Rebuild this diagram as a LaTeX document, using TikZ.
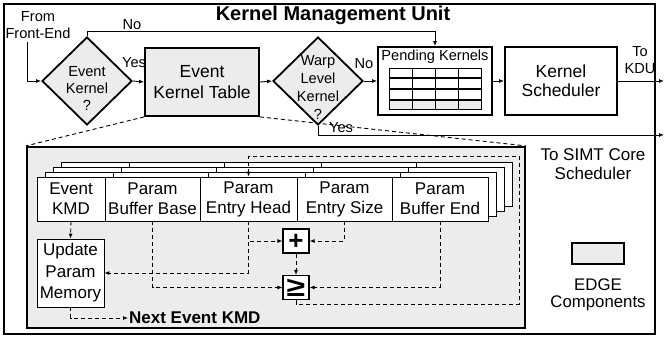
\documentclass[tikz,border=0pt]{standalone}
\usepackage{fontspec}
\setmainfont{Liberation Sans}
\usetikzlibrary{shapes.geometric,arrows.meta}

\begin{document}
\begin{tikzpicture}[x=1pt, y=-1pt, >={Latex[length=5pt,width=4pt]},
    conn/.style = {->, line width=0.9pt},
    dline/.style = {->, line width=0.9pt, dash pattern=on 4pt off 3pt},
    zoomline/.style = {line width=0.9pt, dash pattern=on 4pt off 3pt},
    decision/.style = {shape=diamond, draw, line width=1.8pt, fill=gray!15,
      minimum width=90pt, minimum height=88pt, inner sep=0pt},
    unit/.style = {shape=rectangle, draw, line width=1.8pt,
      minimum height=68pt, align=center},
    cell/.style = {shape=rectangle, draw, line width=0.8pt, fill=white,
      minimum height=44pt, inner sep=0pt, align=center,
      font=\fontsize{17}{20}\selectfont},
    lbl/.style = {align=center, inner sep=0pt,
      font=\fontsize{14.6}{17}\selectfont},
    op/.style = {shape=rectangle, draw, fill=white, line width=1.2pt,
      minimum width=26pt, minimum height=24pt, inner sep=0pt,
      text height=17pt, text depth=0pt,
      font=\fontsize{26}{26}\selectfont\bfseries}]
  \useasboundingbox (0,0) rectangle (665,341);
  \draw[line width=2pt] (4,4) rectangle (655,334);

  % management unit
  \node[font=\fontsize{20}{24}\selectfont\bfseries] (title) at (333,15) {Kernel Management Unit};
  \node[lbl] (from) at (38,25) {From\\Front-End};
  \coordinate (fe) at (27,42);
  \node[decision] (d1) at (87,81) {};
  \node[lbl] (d1txt) at (87,88) {Event\\Kernel\\?};
  \node[unit, fill=gray!15, minimum width=114pt,
    font=\fontsize{17.5}{21}\selectfont] (ekt) at (202,82) {Event\\Kernel Table};
  \node[decision] (d2) at (318,81) {};
  \node[lbl, font=\fontsize{14.6}{18}\selectfont] (d2txt) at (318,87) {Warp\\Level\\Kernel\\?};
  \node[unit, minimum width=114pt] (pend) at (435,81) {};
  \node[lbl] (pendtxt) at (435,57) {Pending Kernels};
  \foreach \r/\f in {0/white,1/white,2/white,3/gray!15} {
    \draw[line width=0.8pt, fill=\f] (389,68+10.7*\r) rectangle (481,77.5+10.7*\r);
    \foreach \c in {412,435,458}
      \draw[line width=0.8pt] (\c,68+10.7*\r) -- (\c,77.5+10.7*\r);
  }
  \node[unit, minimum width=112pt,
    font=\fontsize{17.5}{19}\selectfont] (ksch) at (561,81) {Kernel\\Scheduler};
  \node[lbl] (kdu) at (640,60) {To\\KDU};
  \coordinate (kduend) at (664,81);
  \coordinate (simtend) at (664,135);

  \draw[conn] (fe) |- (d1.west);
  \draw[conn] (d1.north) -- ++(0,-5) -| (pend.north);
  \node[lbl] (no1) at (132,25) {No};
  \draw[conn] (d1.east) -- (ekt.west);
  \node[lbl] (yes1) at (134,63) {Yes};
  \draw[conn] (ekt.east) -- (d2.west);
  \draw[conn] (d2.east) -- (pend.west);
  \node[lbl] (no2) at (364,64) {No};
  \draw[conn] (pend.east) -- (ksch.west);
  \draw[conn] (ksch.east) -- (kduend);
  \draw[conn] (d2.south) |- (simtend);
  \node[lbl] (yes2) at (341,128) {Yes};

  % event kernel table, zoomed
  \node[draw, line width=2.2pt, fill=gray!15, minimum width=498pt,
    minimum height=181pt, inner sep=0pt] (ekbox) at (276,237.5) {};
  \draw[zoomline] (ekt.south west) -- (ekbox.north west);
  \draw[zoomline] (ekt.south east) -- (ekbox.north east);
  \foreach \k in {3,2,1}
    \foreach \a/\b in {37/105,105/200,200/297,297/392,392/488}
      \draw[line width=0.8pt, fill=white] (\a+8*\k,177-5*\k) rectangle (\b+8*\k,221-5*\k);
  \node[cell, minimum width=68pt] (kmd) at (71,199) {Event\\KMD};
  \node[cell, minimum width=95pt] (base) at (152.5,199) {Param\\Buffer Base};
  \node[cell, minimum width=97pt] (head) at (248.5,199) {Param\\Entry Head};
  \node[cell, minimum width=95pt] (size) at (344.5,199) {Param\\Entry Size};
  \node[cell, minimum width=96pt] (bend) at (440,199) {Param\\Buffer End};
  \node[cell, minimum width=67pt, minimum height=68pt,
    font=\fontsize{17}{21.5}\selectfont] (upd) at (70.5,273) {Update\\Param\\Memory};
  \node[op] (plus) at (296,241) {+};
  \node[op] (geq) at (296,287.5) {\scalebox{1.3}[1.05]{≥}};
  \node[font=\fontsize{17}{20}\selectfont\bfseries, inner sep=1pt,
    anchor=west] (next) at (128,318) {Next Event KMD};
  \coordinate (loopa) at (519,304);
  \coordinate (loopb) at (519,156);

  \draw[dline] (kmd.south) -- (upd.north);
  \draw[dline] (head.south) |- (plus.west);
  \draw[dline] (head.south) |- (upd.east);
  \draw[dline] (size.south) |- (plus.east);
  \draw[dline] (plus.south) -- (geq.north);
  \draw[dline] (base.south) |- (geq.west);
  \draw[dline] (bend.south) |- (geq.east);
  \draw[dline] (geq.south) |- (loopa) -- (loopb) -| (head.north);
  \draw[dline] (upd.south) |- (next.west);

  % legend
  \node[font=\fontsize{17}{18.5}\selectfont, align=center] (simt) at (593,164) {To SIMT Core\\Scheduler};
  \node[draw, line width=1.8pt, fill=gray!15, minimum width=52pt,
    minimum height=21pt] (legend) at (598,253.5) {};
  \node[font=\fontsize{16.8}{17}\selectfont, align=center] (legtxt) at (598,295) {EDGE\\Components};
\end{tikzpicture}
\end{document}
